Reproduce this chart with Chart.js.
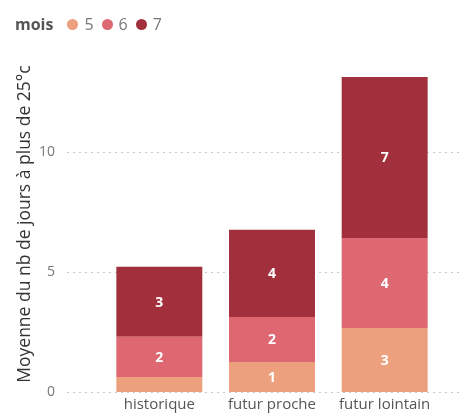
<!DOCTYPE html>
<html>
<head>
<meta charset="utf-8">
<script src="https://cdn.jsdelivr.net/npm/chart.js@4.4.0/dist/chart.umd.min.js"></script>
<style>
  html, body { margin: 0; padding: 0; background: #fff; overflow: hidden; }
  #wrap { position: relative; width: 463px; height: 417px; }
  #chart { display: block; }
  #legend { position: absolute; left: 15px; top: 12px; font-family: "Open Sans", sans-serif; font-size: 16px; color: #777; display: flex; align-items: center; line-height: 24px; }
  #legend b { color: #555; font-size: 16px; margin-right: 14px; }
  #legend .dot { display: inline-block; width: 11px; height: 11px; border-radius: 50%; margin-right: 6px; }
  #legend .item { display: flex; align-items: center; margin-right: 8px; }
</style>
</head>
<body>
<div id="wrap">
  <canvas id="chart"></canvas>
  <div id="legend"><b>mois</b></div>
</div>
<script>
// categories and series (mean days above 25°C, by month)
const periodes = ['historique', 'futur proche', 'futur lointain'];
const mois5 = [0.63, 1.25, 2.67];
const mois6 = [1.67, 1.88, 3.75];
const mois7 = [2.92, 3.63, 6.71];
const moisLabels = ['5', '6', '7'];
const couleurs = ['#EDA07E', '#DE6872', '#A2303C'];
const yTicks = [0, 5, 10];

// legend in html
const legend = document.getElementById('legend');
moisLabels.forEach((m, i) => {
    const item = document.createElement('span');
    item.className = 'item';
    item.innerHTML = `<span class="dot" style="background:${couleurs[i]}"></span>${m}`;
    legend.appendChild(item);
});

// dotted grid lines across the full width
const gridPlugin = {
    id: 'dotGrid',
    beforeDatasetsDraw(chart) {
        const ctx = chart.ctx;
        const y = chart.scales.y;
        ctx.save();
        ctx.strokeStyle = '#c8c8c8';
        ctx.lineWidth = 1;
        ctx.setLineDash([2, 4]);
        yTicks.forEach(v => {
            const py = Math.round(y.getPixelForValue(v)) + 0.5;
            ctx.beginPath();
            ctx.moveTo(67, py);
            ctx.lineTo(461, py);
            ctx.stroke();
        });
        ctx.restore();
    }
};

// white value labels inside the segments
const labelPlugin = {
    id: 'segLabels',
    afterDatasetsDraw(chart) {
        const ctx = chart.ctx;
        ctx.save();
        ctx.fillStyle = '#fff';
        ctx.font = 'bold 14px "Open Sans", sans-serif';
        ctx.textAlign = 'center';
        ctx.textBaseline = 'middle';
        chart.data.datasets.forEach((ds, di) => {
            chart.getDatasetMeta(di).data.forEach((bar, i) => {
                const h = bar.base - bar.y;
                if (h < 20) return;
                ctx.fillText(Math.round(ds.data[i]), bar.x, (bar.y + bar.base) / 2 + 1);
            });
        });
        ctx.restore();
    }
};

const chart = new Chart(document.getElementById('chart'), {
    type: 'bar',
    data: {
        labels: periodes,
        datasets: [
            { label: moisLabels[0], data: mois5, backgroundColor: couleurs[0] },
            { label: moisLabels[1], data: mois6, backgroundColor: couleurs[1] },
            { label: moisLabels[2], data: mois7, backgroundColor: couleurs[2] }
        ]
    },
    options: {
        responsive: true,
        maintainAspectRatio: false,
        animation: false,
        layout: { padding: { top: 56, right: 22, left: 0, bottom: 3 } },
        datasets: { bar: { categoryPercentage: 1, barPercentage: 0.763 } },
        plugins: {
            legend: { display: false },
            tooltip: { enabled: false }
        },
        scales: {
            x: {
                stacked: true,
                grid: { display: false, drawTicks: false },
                border: { display: false },
                ticks: { color: '#555', font: { family: '"Open Sans", sans-serif', size: 15 }, padding: 4, maxRotation: 0 }
            },
            y: {
                stacked: true,
                min: 0,
                max: 14,
                grid: { display: false, drawTicks: false },
                border: { display: false },
                ticks: {
                    stepSize: 5,
                    padding: 48,
                    color: '#777',
                    font: { family: '"Open Sans", sans-serif', size: 14 },
                    callback: v => yTicks.includes(v) ? v : ''
                },
                title: {
                    display: true,
                    text: 'Moyenne du nb de jours à plus de 25°c',
                    color: '#333',
                    font: { family: '"Open Sans", sans-serif', size: 17.5 },
                    padding: { top: 15, bottom: 0 }
                },
                // fixed axis width; the big tick padding must not eat vertical room
                afterFit: s => {
                    s.width = 103;
                    s.paddingTop = 0;
                    s.paddingBottom = 0;
                }
            }
        }
    },
    plugins: [gridPlugin, labelPlugin]
});

// nudge the plot bottom onto the baseline seen in the picture
for (let k = 0; k < 3; k++) {
    const diff = 392 - chart.chartArea.bottom;
    if (Math.abs(diff) < 0.5) break;
    chart.options.layout.padding.bottom -= diff;
    chart.update();
}
</script>
</body>
</html>
